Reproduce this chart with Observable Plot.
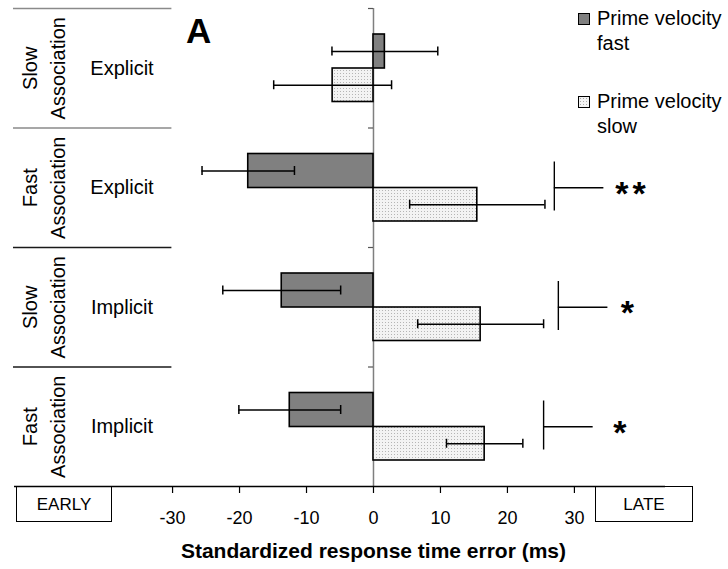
<!DOCTYPE html>
<html>
<head>
<meta charset="utf-8">
<script src="https://cdn.jsdelivr.net/npm/d3@7"></script>
<script src="https://cdn.jsdelivr.net/npm/@observablehq/plot@0.6"></script>
<style>
  body { margin: 0; background: #fff; font-family: "Liberation Sans", Arial, sans-serif; color: #000; }
  #figure { position: relative; width: 728px; height: 569px; overflow: hidden; }
  #figure svg { position: absolute; left: 0; top: 0; }
  .letter { position: absolute; left: 186px; top: 13px; font-size: 35px; font-weight: bold; line-height: 1; }
  .legend-item { position: absolute; left: 577px; font-size: 20px; line-height: 25px; white-space: nowrap; }
  .legend-item .swatch { position: absolute; left: 1px; top: 7px; width: 10px; height: 10px; border: 1px solid #000; }
  .legend-item .text { position: absolute; left: 20px; top: 0; }
  .direction { position: absolute; top: 486px; height: 36px; border: 1px solid #000; font-size: 17px; line-height: 36px; text-align: center; box-sizing: border-box; }
</style>
</head>
<body>
<div id="figure"></div>
<script>
// Conditions, top to bottom
const associations = ["Slow\nAssociation", "Fast\nAssociation", "Slow\nAssociation", "Fast\nAssociation"];
const instructions = ["Explicit", "Explicit", "Implicit", "Implicit"];

// Mean standardized response time error (ms) and error bar half-widths
const fastMeans = [1.7, -18.7, -13.7, -12.5];
const fastErrors = [7.9, 6.9, 8.8, 7.6];
const slowMeans = [-6.1, 15.5, 16.0, 16.6];
const slowErrors = [8.8, 10.1, 9.4, 5.7];

// Significance of the fast vs slow prime difference
const significance = ["", "**", "*", "*"];
const bracketAt = [null, 27.0, 27.6, 25.4];
const starAt = [null, 36.1, 36.9, 35.8];

// Axis and annotation text
const xTicks = [-30, -20, -10, 0, 10, 20, 30];
const axisTitle = "Standardized response time error (ms)";
const legendLines = [["Prime velocity", "fast"], ["Prime velocity", "slow"]];
const directionLabels = ["EARLY", "LATE"];
const panelLetter = "A";

// Layout
const W = 728, H = 569;
const margin = {top: 8, right: 63, bottom: 83, left: 14};
const xDomain = [-53.6, 43.6];
const pxPerUnit = (W - margin.left - margin.right) / (xDomain[1] - xDomain[0]);
const band = (H - margin.top - margin.bottom) / associations.length;
const fastBand = [26, 60];   // pixel offsets of the fast-prime bar inside a row
const slowBand = [60, 93.5]; // pixel offsets of the slow-prime bar inside a row
const bracketBand = [34, 83];
const capHalf = 4.5;

const conditions = instructions.map((instruction, i) => ({
  id: i,
  association: associations[i],
  instruction,
  sig: significance[i],
  bracket: bracketAt[i],
  star: starAt[i]
}));
const fastRows = fastMeans.map((mean, i) => ({id: i, mean, err: fastErrors[i]}));
const slowRows = slowMeans.map((mean, i) => ({id: i, mean, err: slowErrors[i]}));
const sigRows = conditions.filter((d) => d.sig);

const centerOf = ([a, b]) => (a + b) / 2;
const lo = (d) => d.mean - d.err;
const hi = (d) => d.mean + d.err;

function errorMarks(rows, slot) {
  const c = centerOf(slot);
  return [
    Plot.ruleY(rows, {y: "id", x1: lo, x2: hi, dy: c - band / 2, stroke: "#000", strokeWidth: 1.5}),
    Plot.tickX(rows, {y: "id", x: lo, insetTop: c - capHalf, insetBottom: band - c - capHalf, stroke: "#000", strokeWidth: 1.5}),
    Plot.tickX(rows, {y: "id", x: hi, insetTop: c - capHalf, insetBottom: band - c - capHalf, stroke: "#000", strokeWidth: 1.5})
  ];
}

const chart = Plot.plot({
  width: W,
  height: H,
  marginTop: margin.top,
  marginRight: margin.right,
  marginBottom: margin.bottom,
  marginLeft: margin.left,
  style: {fontFamily: "'Liberation Sans', Arial, sans-serif", fontSize: "18px", color: "#000", background: "transparent"},
  x: {domain: xDomain, label: null},
  y: {domain: conditions.map((d) => d.id), type: "band", padding: 0, round: false, axis: null},
  marks: [
    // zero line
    Plot.ruleX([0], {stroke: "#7f7f7f", strokeWidth: 1.5}),
    // row separators of the condition table and small ticks on the zero line
    Plot.ruleY(conditions, {y: "id", x1: xDomain[0] - 0.15, x2: -30.1, dy: -band / 2,
      stroke: (d) => (d.id < 2 ? "#8a8a8a" : "#1a1a1a"), strokeWidth: 1.5}),
    Plot.ruleY(conditions, {y: "id", x1: -5 / pxPerUnit, x2: 0, dy: -band / 2, stroke: "#555", strokeWidth: 1.2}),
    // bars
    Plot.barX(fastRows, {y: "id", x: "mean", insetTop: fastBand[0], insetBottom: band - fastBand[1],
      fill: "#808080", stroke: "#000", strokeWidth: 1.6}),
    Plot.barX(slowRows, {y: "id", x: "mean", insetTop: slowBand[0], insetBottom: band - slowBand[1],
      fill: "url(#slowDots)", stroke: "#000", strokeWidth: 1.6}),
    // error bars
    ...errorMarks(fastRows, fastBand),
    ...errorMarks(slowRows, slowBand),
    // significance brackets and stars
    Plot.tickX(sigRows, {y: "id", x: "bracket", insetTop: bracketBand[0], insetBottom: band - bracketBand[1],
      stroke: "#000", strokeWidth: 1.4}),
    Plot.ruleY(sigRows, {y: "id", x1: "bracket", x2: (d) => d.bracket + 7.4, stroke: "#000", strokeWidth: 1.4}),
    Plot.text(sigRows, {y: "id", x: "star", text: "sig", textAnchor: "start", fontSize: 34, fontWeight: "bold", dy: 6}),
    // condition labels
    Plot.text(conditions, {y: "id", text: "association", frameAnchor: "left", dx: 27.5, rotate: -90,
      fontSize: 20, lineHeight: 1.4, textAnchor: "middle"}),
    Plot.text(conditions, {y: "id", text: "instruction", frameAnchor: "left", dx: 107.5,
      fontSize: 20, textAnchor: "middle"}),
    // x axis
    Plot.ruleY([conditions[conditions.length - 1]], {y: "id", dy: band / 2, stroke: "#000", strokeWidth: 1.5}),
    Plot.axisX(xTicks, {anchor: "bottom", tickSize: 7, tickPadding: 18, fontSize: 18,
      tickFormat: (d) => String(d), label: null, strokeWidth: 1.2}),
    Plot.text([axisTitle], {x: () => 0, text: (d) => d, frameAnchor: "bottom", dy: 71,
      fontSize: 21, fontWeight: "bold"})
  ]
});

// dotted fill used by the slow-prime bars
const defs = document.createElementNS("http://www.w3.org/2000/svg", "defs");
defs.innerHTML = `<pattern id="slowDots" width="3" height="3" patternUnits="userSpaceOnUse">
  <rect width="3" height="3" fill="#f3f3f3"></rect>
  <rect x="1" y="1" width="1" height="1" fill="#b5b5b5"></rect>
</pattern>`;
chart.insertBefore(defs, chart.firstChild);

// space the significance asterisks apart
chart.querySelectorAll("text").forEach((t) => {
  if (/^\*+$/.test(t.textContent)) t.setAttribute("letter-spacing", "4");
});

const figure = document.getElementById("figure");
figure.appendChild(chart);

// panel letter
const letter = document.createElement("div");
letter.className = "letter";
letter.textContent = panelLetter;
figure.appendChild(letter);

// legend
const swatchFills = [
  "background:#808080;",
  "background-color:#f3f3f3;background-image:radial-gradient(#aaa 0.7px, transparent 0.8px);background-size:3px 3px;"
];
const legendTops = [6, 89];
legendLines.forEach((lines, i) => {
  const item = document.createElement("div");
  item.className = "legend-item";
  item.style.top = legendTops[i] + "px";
  item.innerHTML = `<span class="swatch" style="${swatchFills[i]}"></span>` +
    `<span class="text">${lines.join("<br>")}</span>`;
  figure.appendChild(item);
});

// EARLY / LATE boxes under the axis ends
const boxes = [{left: 16, width: 96}, {left: 595, width: 98}];
directionLabels.forEach((label, i) => {
  const box = document.createElement("div");
  box.className = "direction";
  box.style.left = boxes[i].left + "px";
  box.style.width = boxes[i].width + "px";
  box.textContent = label;
  figure.appendChild(box);
});
</script>
</body>
</html>
